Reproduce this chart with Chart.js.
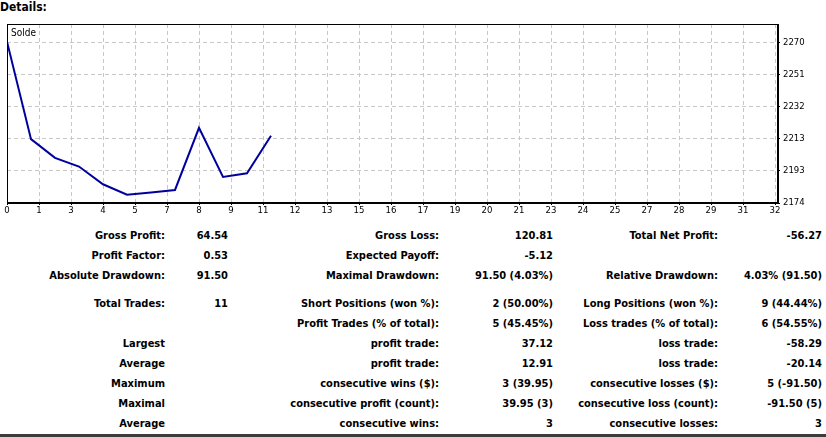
<!DOCTYPE html>
<html>
<head>
<meta charset="utf-8">
<script src="https://cdn.jsdelivr.net/npm/chart.js@4"></script>
<style>
  body { margin: 0; background: #fff; width: 826px; height: 437px; overflow: hidden; position: relative;
         font-family: "DejaVu Sans Condensed", "DejaVu Sans", sans-serif; color: #000; }
  #head { position: absolute; left: 0; top: 0; font-weight: bold; font-size: 12px; line-height: 14px; }
  #box { position: absolute; left: 0; top: 0; width: 826px; height: 222px; }
  #solde { position: absolute; left: 11px; top: 27px; font-size: 10px; line-height: 12px; }
  .cell { position: absolute; left: 0; text-align: right; font-weight: bold; font-size: 11px;
          line-height: 14px; white-space: nowrap; }
  #bar { position: absolute; left: 0; top: 434px; width: 826px; height: 3px; background: #3c3c3c; }
</style>
</head>
<body>
<div id="head">Details:</div>
<div id="box"><canvas id="balance-chart"></canvas></div>
<div id="solde">Solde</div>
<div id="stats"></div>
<div id="bar"></div>
<script>
// balance after each trade
const trades  = [0, 1, 2, 3, 4, 5, 6, 7, 8, 9, 10, 11]
const balance = [2270.47, 2212.18, 2201.0, 2195.8, 2185.2, 2178.97, 2180.3, 2181.8, 2218.92, 2189.61, 2191.8, 2214.20]

const xTickLabels = ["0","1","3","4","5","7","8","9","11","12","13","15","16","17","19","20","21","23","24","25","27","28","29","31","32"]
const yTickValues = [2174, 2193.2, 2212.4, 2231.6, 2250.8, 2270]
const yTickLabels = ["2174","2193","2213","2232","2251","2270"]

// report table, one array per column
const col1 = ["Gross Profit:", "Profit Factor:", "Absolute Drawdown:", "Total Trades:", "", "Largest", "Average", "Maximum", "Maximal", "Average"]
const col2 = ["64.54", "0.53", "91.50", "11", "", "", "", "", "", ""]
const col3 = ["Gross Loss:", "Expected Payoff:", "Maximal Drawdown:", "Short Positions (won %):", "Profit Trades (% of total):", "profit trade:", "profit trade:", "consecutive wins ($):", "consecutive profit (count):", "consecutive wins:"]
const col4 = ["120.81", "-5.12", "91.50 (4.03%)", "2 (50.00%)", "5 (45.45%)", "37.12", "12.91", "3 (39.95)", "39.95 (3)", "3"]
const col5 = ["Total Net Profit:", "", "Relative Drawdown:", "Long Positions (won %):", "Loss trades (% of total):", "loss trade:", "loss trade:", "consecutive losses ($):", "consecutive loss (count):", "consecutive losses:"]
const col6 = ["-56.27", "", "4.03% (91.50)", "9 (44.44%)", "6 (54.55%)", "-58.29", "-20.14", "5 (-91.50)", "-91.50 (5)", "3"]

const rowY = [236, 256, 276, 304, 324, 344, 364, 384, 404, 424]
const colRight = [165, 228, 439, 553, 718, 822]

const stats = document.getElementById("stats")
;[col1, col2, col3, col4, col5, col6].forEach((col, c) => {
    col.forEach((txt, r) => {
        if (!txt) return
        let d = document.createElement("div")
        d.className = "cell"
        d.style.width = colRight[c] + "px"
        d.style.top = (rowY[r] - 7) + "px"
        d.textContent = txt
        stats.appendChild(d)
    })
})

const axisFont = { family: '"DejaVu Sans Condensed", "DejaVu Sans", sans-serif', size: 9.5 }

const frame = {
    id: "frame",
    afterDraw(chart) {
        const { ctx, chartArea: a } = chart
        ctx.save()
        ctx.strokeStyle = "#000"
        ctx.lineWidth = 1
        ctx.strokeRect(Math.round(a.left) + 0.5, Math.round(a.top) + 0.5, Math.round(a.right - a.left) - 1, Math.round(a.bottom - a.top) - 1)
        ctx.restore()
    }
}

const balanceChart = new Chart(document.getElementById("balance-chart"), {
    type: "line",
    data: {
        datasets: [{
            label: "Solde",
            data: trades.map((t, i) => ({ x: t, y: balance[i] })),
            borderColor: "#00009c",
            borderWidth: 2,
            pointRadius: 0,
            tension: 0,
            fill: false
        }]
    },
    options: {
        responsive: true,
        maintainAspectRatio: false,
        animation: false,
        layout: { padding: { top: 24, left: 7, right: 0, bottom: 0 } },
        plugins: { legend: { display: false }, tooltip: { enabled: false } },
        scales: {
            x: {
                type: "linear",
                min: 0,
                max: 32.125,
                afterBuildTicks: axis => { axis.ticks = xTickLabels.map((t, k) => ({ value: k * 4 / 3 })) },
                afterFit: axis => { axis.height = 19 },
                ticks: {
                    autoSkip: false, maxRotation: 0, padding: 0, color: "#000", font: axisFont,
                    callback: (v, i) => xTickLabels[i]
                },
                grid: { color: "#c8c8c8", tickColor: "#000", tickLength: 2, tickBorderDash: [] },
                border: { color: "#000", width: 1, dash: [4, 3] }
            },
            y: {
                position: "right",
                min: 2174,
                max: 2281,
                afterBuildTicks: axis => { axis.ticks = yTickValues.map(v => ({ value: v })) },
                afterFit: axis => { axis.width = 48 },
                ticks: {
                    padding: 3, color: "#000", font: axisFont,
                    callback: (v, i) => yTickLabels[i]
                },
                grid: { color: "#c8c8c8", tickColor: "#000", tickLength: 2, tickBorderDash: [] },
                border: { color: "#000", width: 1, dash: [4, 3] }
            }
        }
    },
    plugins: [frame]
});
</script>
</body>
</html>
